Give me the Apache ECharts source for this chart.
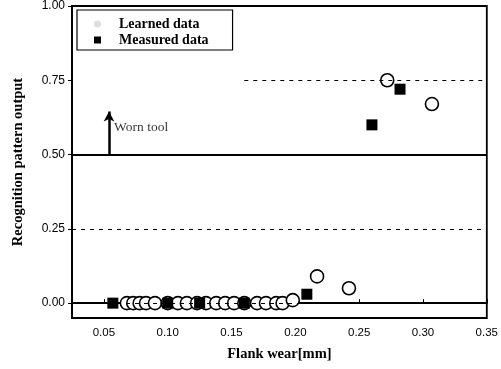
<!DOCTYPE html>
<html>
<head>
<meta charset="utf-8">
<script src="https://cdn.jsdelivr.net/npm/echarts@6/dist/echarts.min.js"></script>
<style>
  html, body { margin: 0; padding: 0; background: #fff; }
  #main { width: 501px; height: 369px; }
</style>
</head>
<body>
<div id="main"></div>
<script>
// tick labels
var xTicks = [0.05, 0.10, 0.15, 0.20, 0.25, 0.30, 0.35];
var yTicks = [0.00, 0.25, 0.50, 0.75, 1.00];

// learned data (open circles): [flank wear, output]
var learned = [
    [0.068, 0], [0.073, 0], [0.078, 0], [0.083, 0], [0.090, 0],
    [0.100, 0], [0.108, 0], [0.115, 0], [0.123, 0], [0.130, 0],
    [0.138, 0], [0.145, 0], [0.152, 0], [0.160, 0], [0.170, 0],
    [0.177, 0], [0.185, 0], [0.190, 0], [0.198, 0.01],
    [0.217, 0.09], [0.242, 0.05], [0.272, 0.75], [0.307, 0.67]
];

// measured data (filled squares)
var measured = [
    [0.057, 0], [0.100, 0], [0.125, 0], [0.160, 0],
    [0.209, 0.03], [0.260, 0.60], [0.282, 0.72]
];

// reference lines
var dashedLevels = [0.00, 0.25];
var upperDashed = [0.16, 0.75];
var thresholdLevel = 0.50;
var arrowX = 0.054, arrowFrom = 0.50, arrowTo = 0.645;
var wornLabel = [0.058, 0.59];

var chartDom = document.getElementById('main');
var myChart = echarts.init(chartDom);

var serif = '"Liberation Serif", "DejaVu Serif", serif';
var sans = '"Liberation Sans", Arial, sans-serif';

var option = {
    animation: false,
    backgroundColor: '#fff',
    grid: {
        left: 72, right: 13, top: 5, bottom: 51,
        show: true, borderColor: '#000', borderWidth: 1.8
    },
    legend: {
        left: 77, top: 10,
        orient: 'vertical',
        itemWidth: 7, itemHeight: 7, itemGap: 2,
        padding: [7, 24, 3, 17],
        borderColor: '#000', borderWidth: 1.2,
        backgroundColor: '#fff',
        textStyle: { fontFamily: serif, fontSize: 14, fontWeight: 'bold', color: '#000', padding: [0, 0, 0, 13] },
        data: [
            { name: 'Learned data', icon: 'circle', itemStyle: { color: '#ddd', borderWidth: 0 } },
            { name: 'Measured data', icon: 'rect', itemStyle: { color: '#000', borderWidth: 0 } }
        ]
    },
    xAxis: {
        type: 'value',
        min: 0.025, max: 0.35,
        name: 'Flank wear[mm]',
        nameLocation: 'middle',
        nameGap: 29,
        nameTextStyle: { fontFamily: serif, fontSize: 14.5, fontWeight: 'bold', color: '#000' },
        splitLine: { show: false },
        axisLine: { lineStyle: { color: '#000', width: 1.8 } },
        axisTick: { inside: true, length: 4, customValues: xTicks, lineStyle: { color: '#000' } },
        axisLabel: {
            customValues: xTicks,
            formatter: function (v) { return v.toFixed(2); },
            fontFamily: sans, fontSize: 11.5, color: '#000', margin: 9
        }
    },
    yAxis: {
        type: 'value',
        min: -0.05, max: 1.0,
        name: 'Recognition pattern output',
        nameLocation: 'middle',
        nameGap: 46,
        nameTextStyle: { fontFamily: serif, fontSize: 14.5, fontWeight: 'bold', color: '#000' },
        splitLine: { show: false },
        axisLine: { lineStyle: { color: '#000', width: 1.8 } },
        axisTick: { length: 4, customValues: yTicks, lineStyle: { color: '#000' } },
        axisLabel: {
            customValues: yTicks,
            formatter: function (v) { return v.toFixed(2); },
            fontFamily: sans, fontSize: 12, color: '#000', margin: 7
        }
    },
    series: [
        {
            name: 'lines',
            type: 'scatter',
            data: [],
            silent: true,
            markLine: {
                silent: true,
                symbol: 'none',
                label: { show: false },
                data: [
                    { yAxis: dashedLevels[0], lineStyle: { type: [4, 5], color: '#000', width: 1 } },
                    { yAxis: dashedLevels[1], lineStyle: { type: [4, 5], color: '#000', width: 1 } },
                    [
                        { coord: [upperDashed[0], upperDashed[1]], lineStyle: { type: [4, 5], color: '#000', width: 1 } },
                        { coord: [0.35, upperDashed[1]] }
                    ],
                    { yAxis: thresholdLevel, lineStyle: { type: 'solid', color: '#000', width: 2 } },
                    [
                        { coord: [arrowX, arrowFrom], symbol: 'none', lineStyle: { type: 'solid', color: '#000', width: 2.5 } },
                        { coord: [arrowX, arrowTo], symbol: 'arrow', symbolSize: [8, 10] }
                    ]
                ]
            }
        },
        {
            name: 'Worn tool',
            type: 'scatter',
            symbolSize: 0,
            silent: true,
            data: [wornLabel],
            label: {
                show: true, position: 'right', distance: 0,
                formatter: 'Worn tool',
                fontFamily: serif, fontSize: 13.5, color: '#000'
            }
        },
        {
            name: 'Learned data',
            type: 'scatter',
            symbol: 'circle',
            symbolSize: 13,
            data: learned,
            itemStyle: { color: '#fff', borderColor: '#000', borderWidth: 1.6, opacity: 1 },
            z: 3
        },
        {
            name: 'Measured data',
            type: 'scatter',
            symbol: 'rect',
            symbolSize: 11,
            data: measured,
            itemStyle: { color: '#000', opacity: 1 },
            z: 4
        }
    ]
};

option && myChart.setOption(option);
</script>
</body>
</html>
